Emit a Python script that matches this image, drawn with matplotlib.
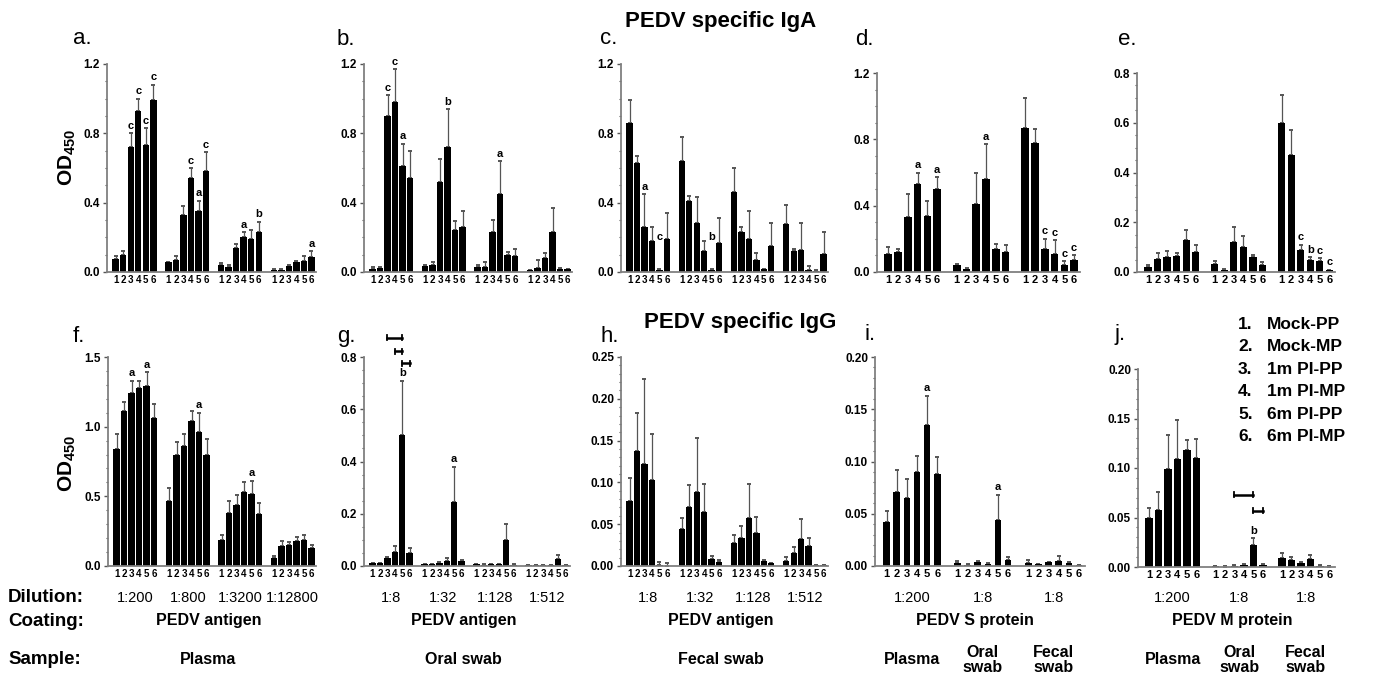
import matplotlib
matplotlib.use('Agg')
import matplotlib.pyplot as plt
from matplotlib.ticker import MultipleLocator, FormatStrFormatter
from matplotlib.transforms import blended_transform_factory

plt.rcParams['font.family'] = ['Liberation Sans', 'DejaVu Sans']
plt.rcParams['mathtext.fontset'] = 'custom'
plt.rcParams['mathtext.rm'] = 'Liberation Sans:bold'
plt.rcParams['mathtext.bf'] = 'Liberation Sans:bold'

## bar means and upper error (SEM), one row per dilution / sample group
a_mean = [[0.075, 0.10, 0.72, 0.93, 0.73, 0.99], [0.055, 0.07, 0.33, 0.54, 0.35, 0.58],
          [0.04, 0.03, 0.14, 0.20, 0.19, 0.23], [0.01, 0.012, 0.035, 0.055, 0.065, 0.085]]
a_sem = [[0.015, 0.02, 0.08, 0.07, 0.10, 0.09], [0.005, 0.02, 0.05, 0.06, 0.06, 0.11],
         [0.01, 0.01, 0.02, 0.03, 0.05, 0.06], [0.005, 0.008, 0.008, 0.01, 0.025, 0.035]]
b_mean = [[0.02, 0.025, 0.90, 0.98, 0.61, 0.54], [0.035, 0.04, 0.52, 0.72, 0.245, 0.26],
          [0.03, 0.03, 0.23, 0.45, 0.10, 0.095], [0.01, 0.025, 0.08, 0.23, 0.02, 0.015]]
b_sem = [[0.008, 0.005, 0.12, 0.19, 0.13, 0.16], [0.008, 0.02, 0.13, 0.22, 0.05, 0.09],
         [0.01, 0.03, 0.07, 0.19, 0.015, 0.035], [0.003, 0.045, 0.03, 0.14, 0.005, 0.005]]
c_mean = [[0.86, 0.63, 0.26, 0.18, 0.01, 0.19], [0.64, 0.41, 0.28, 0.12, 0.01, 0.17],
          [0.46, 0.23, 0.19, 0.07, 0.015, 0.15], [0.275, 0.12, 0.125, 0.01, 0.005, 0.105]]
c_sem = [[0.13, 0.04, 0.19, 0.08, 0.005, 0.15], [0.14, 0.03, 0.15, 0.06, 0.005, 0.14],
         [0.14, 0.03, 0.16, 0.04, 0.005, 0.13], [0.11, 0.01, 0.155, 0.025, 0.005, 0.125]]
d_mean = [[0.11, 0.12, 0.33, 0.53, 0.34, 0.50], [0.04, 0.02, 0.41, 0.56, 0.14, 0.12],
          [0.87, 0.78, 0.14, 0.11, 0.045, 0.07]]
d_sem = [[0.04, 0.02, 0.14, 0.07, 0.09, 0.07], [0.01, 0.003, 0.19, 0.21, 0.03, 0.04],
         [0.18, 0.08, 0.06, 0.08, 0.02, 0.03]]
e_mean = [[0.02, 0.052, 0.06, 0.065, 0.13, 0.08], [0.033, 0.008, 0.12, 0.10, 0.06, 0.028],
          [0.60, 0.47, 0.09, 0.05, 0.045, 0.008]]
e_sem = [[0.01, 0.025, 0.025, 0.01, 0.04, 0.03], [0.01, 0.003, 0.06, 0.045, 0.01, 0.012],
         [0.11, 0.10, 0.02, 0.01, 0.01, 0.002]]
f_mean = [[0.84, 1.11, 1.24, 1.28, 1.29, 1.06], [0.47, 0.80, 0.86, 1.04, 0.96, 0.80],
          [0.19, 0.38, 0.44, 0.53, 0.52, 0.37], [0.06, 0.14, 0.15, 0.18, 0.19, 0.13]]
f_sem = [[0.11, 0.07, 0.09, 0.05, 0.10, 0.10], [0.09, 0.09, 0.09, 0.07, 0.14, 0.11],
         [0.03, 0.09, 0.07, 0.07, 0.09, 0.08], [0.01, 0.04, 0.02, 0.03, 0.03, 0.02]]
g_mean = [[0.01, 0.01, 0.03, 0.055, 0.50, 0.05], [0.008, 0.008, 0.012, 0.02, 0.245, 0.018],
          [0.008, 0.005, 0.008, 0.006, 0.10, 0.005], [0.003, 0.002, 0.002, 0.002, 0.027, 0.002]]
g_sem = [[0.002, 0.002, 0.005, 0.02, 0.21, 0.02], [0.001, 0.001, 0.002, 0.01, 0.135, 0.004],
         [0.001, 0.001, 0.001, 0.001, 0.06, 0.001], [0.001, 0.001, 0.001, 0.001, 0.015, 0.001]]
h_mean = [[0.078, 0.137, 0.122, 0.103, 0.001, 0.0005], [0.044, 0.071, 0.089, 0.064, 0.008, 0.005],
          [0.027, 0.033, 0.057, 0.039, 0.006, 0.003], [0.006, 0.016, 0.032, 0.024, 0.001, 0.001]]
h_sem = [[0.027, 0.046, 0.102, 0.055, 0.004, 0.003], [0.014, 0.026, 0.064, 0.034, 0.004, 0.002],
         [0.01, 0.015, 0.041, 0.02, 0.001, 0.001], [0.005, 0.007, 0.024, 0.01, 0.0005, 0.0005]]
i_mean = [[0.042, 0.071, 0.065, 0.090, 0.135, 0.088], [0.003, 0.001, 0.004, 0.002, 0.044, 0.006],
          [0.003, 0.0015, 0.0035, 0.005, 0.003, 0.0005]]
i_sem = [[0.011, 0.021, 0.018, 0.015, 0.028, 0.016], [0.002, 0.0005, 0.001, 0.001, 0.024, 0.003],
         [0.003, 0.0005, 0.0005, 0.005, 0.001, 0.0003]]
j_mean = [[0.049, 0.058, 0.099, 0.109, 0.118, 0.110], [0.001, 0.0005, 0.0015, 0.002, 0.022, 0.002],
          [0.009, 0.007, 0.004, 0.008, 0.0015, 0.0005]]
j_sem = [[0.011, 0.018, 0.034, 0.039, 0.010, 0.019], [0.0005, 0.0002, 0.0005, 0.001, 0.007, 0.001],
         [0.005, 0.003, 0.001, 0.004, 0.0005, 0.0002]]

## significance letters: (group, bar, letter[, height])
a_sig = [(0, 2, 'c'), (0, 3, 'c'), (0, 4, 'c'), (0, 5, 'c'), (1, 3, 'c'), (1, 4, 'a'), (1, 5, 'c'),
         (2, 3, 'a'), (2, 5, 'b'), (3, 5, 'a')]
b_sig = [(0, 2, 'c'), (0, 3, 'c'), (0, 4, 'a'), (1, 3, 'b'), (2, 3, 'a')]
c_sig = [(0, 2, 'a'), (0, 4, 'c', 0.175), (1, 4, 'b', 0.175)]
d_sig = [(0, 3, 'a'), (0, 5, 'a'), (1, 3, 'a'), (2, 2, 'c'), (2, 3, 'c'), (2, 4, 'c'), (2, 5, 'c')]
e_sig = [(2, 2, 'c'), (2, 3, 'b'), (2, 4, 'c'), (2, 5, 'c')]
f_sig = [(0, 2, 'a'), (0, 4, 'a'), (1, 4, 'a'), (2, 4, 'a')]
g_sig = [(0, 4, 'b'), (1, 4, 'a')]
i_sig = [(0, 4, 'a'), (1, 4, 'a')]
j_sig = [(1, 4, 'b')]
## comparison brackets: (group, from bar, to bar, height)
g_brk = [(0, 2, 4, 0.873), (0, 3, 4, 0.822), (0, 4, 5, 0.777)]
j_brk = [(1, 2, 4, 0.073), (1, 4, 5, 0.057)]

groups = ['1', '2', '3', '4', '5', '6']
legend_names = ['Mock-PP', 'Mock-MP', '1m PI-PP', '1m PI-MP', '6m PI-PP', '6m PI-MP']
dil_fghij = [['1:200', '1:800', '1:3200', '1:12800'], ['1:8', '1:32', '1:128', '1:512'],
             ['1:8', '1:32', '1:128', '1:512'], ['1:200', '1:8', '1:8'], ['1:200', '1:8', '1:8']]
coating = ['PEDV antigen', 'PEDV antigen', 'PEDV antigen', 'PEDV S protein', 'PEDV M protein']
samples = ['Plasma', 'Oral swab', 'Fecal swab']
samples_short = ['Plasma', 'Oral\nswab', 'Fecal\nswab']

W, H = 1380, 688
fig = plt.figure(figsize=(13.8, 6.88), dpi=100)


def box(x0, y0, x1, y1):
    return [x0 / W, 1 - y1 / H, (x1 - x0) / W, (y1 - y0) / H]


def ftext(x, y, s, **kw):
    fig.text(x / W, 1 - y / H, s, **kw)


def panel(rect, means, sems, ymax, step, minor, fmt, width, sig=(), brk=(), xfs=7):
    ax = fig.add_axes(box(*rect))
    xs, ys, es = [], [], []
    for g in range(len(means)):
        for k in range(6):
            xs.append(g * 7 + k)
            ys.append(means[g][k])
            es.append(sems[g][k])
    ax.bar(xs, ys, width=width, color='black', zorder=2)
    ax.errorbar(xs, ys, yerr=[[0] * len(es), es], fmt='none', ecolor='#555555',
                elinewidth=0.9, capsize=1.4, capthick=1.4, zorder=1)
    for s in sig:
        g, k, letter = s[0], s[1], s[2]
        y = s[3] if len(s) > 3 else means[g][k] + sems[g][k] + ymax * 0.012
        ax.text(g * 7 + k, y, letter, ha='center', va='bottom', fontsize=8, fontweight='bold')
    for g, k0, k1, y in brk:
        x0, x1 = g * 7 + k0, g * 7 + k1
        d = ymax * 0.012
        ax.plot([x0, x1], [y, y], color='black', lw=1.8, clip_on=False)
        ax.plot([x0, x0], [y - d, y + d], color='black', lw=1.3, clip_on=False)
        ax.plot([x1, x1], [y - d, y + d], color='black', lw=1.3, clip_on=False)
    ax.set_xlim(-1.15, (len(means) - 1) * 7 + 5.6)
    ax.set_ylim(0, ymax)
    ax.set_xticks(xs)
    ax.set_xticklabels(groups * len(means))
    ax.tick_params(axis='x', length=0, pad=2.5, labelsize=xfs)
    ax.yaxis.set_major_locator(MultipleLocator(step))
    ax.yaxis.set_minor_locator(MultipleLocator(minor))
    ax.yaxis.set_major_formatter(FormatStrFormatter(fmt))
    ax.tick_params(axis='y', which='major', length=3, width=1, color='#555555', labelsize=8.5, pad=2)
    ax.tick_params(axis='y', which='minor', length=1.5, width=0.8, color='#555555')
    for lab in ax.get_xticklabels() + ax.get_yticklabels():
        lab.set_fontweight('bold')
    for side in ['top', 'right']:
        ax.spines[side].set_visible(False)
    for side in ['left', 'bottom']:
        ax.spines[side].set_color('#808080')
        ax.spines[side].set_linewidth(1.3)
    return ax


panel((107, 64, 316, 272), a_mean, a_sem, 1.2, 0.4, 0.1, '%.1f', 0.85, a_sig)
panel((364, 64, 572, 272), b_mean, b_sem, 1.2, 0.4, 0.1, '%.1f', 0.85, b_sig)
panel((621, 64, 828, 272), c_mean, c_sem, 1.2, 0.4, 0.1, '%.1f', 0.85, c_sig)
panel((877, 73, 1080, 272), d_mean, d_sem, 1.2, 0.4, 0.1, '%.1f', 0.78, d_sig, xfs=8)
panel((1137, 73, 1335, 272), e_mean, e_sem, 0.8, 0.2, 0.05, '%.1f', 0.75, e_sig, xfs=8)
bottom = [
    panel((108, 357, 316, 566), f_mean, f_sem, 1.5, 0.5, 0.1, '%.1f', 0.85, f_sig),
    panel((364, 357, 570, 566), g_mean, g_sem, 0.8, 0.2, 0.05, '%.1f', 0.85, g_sig, g_brk),
    panel((621, 357, 828, 566), h_mean, h_sem, 0.25, 0.05, 0.01, '%.2f', 0.85),
    panel((875, 357, 1085, 566), i_mean, i_sem, 0.20, 0.05, 0.01, '%.2f', 0.65, i_sig, xfs=8),
    panel((1138, 369, 1335, 567), j_mean, j_sem, 0.20, 0.05, 0.01, '%.2f', 0.8, j_sig, j_brk, xfs=8),
]

## panel letters and titles
for s, x, y in [('a.', 73, 44), ('b.', 337, 45), ('c.', 600, 44), ('d.', 855, 45), ('e.', 1118, 45),
                ('f.', 73, 342), ('g.', 337, 342), ('h.', 600, 342), ('i.', 865, 340), ('j.', 1115, 340)]:
    ftext(x, y, s, fontsize=16, ha='left', va='baseline')
ftext(721, 27, 'PEDV specific IgA', fontsize=16, fontweight='bold', ha='center', va='baseline')
ftext(740, 328, 'PEDV specific IgG', fontsize=16, fontweight='bold', ha='center', va='baseline')
for yc in [157, 463]:
    ftext(67, yc, 'OD$_{450}$', fontsize=15, fontweight='bold', rotation=90, ha='center', va='center')

## legend of groups
for n, name in enumerate(legend_names):
    ftext(1238, 329 + n * 22.4, f'{n + 1}.', fontsize=12.5, fontweight='bold', va='baseline')
    ftext(1267, 329 + n * 22.4, name, fontsize=12.5, fontweight='bold', va='baseline')

## dilution / coating / sample rows
ftext(8, 598, 'Dilution:', fontsize=13.5, fontweight='bold', va='center')
ftext(8, 621, 'Coating:', fontsize=13.5, fontweight='bold', va='center')
ftext(8, 660, 'Sample:', fontsize=13.5, fontweight='bold', va='center')
for p, ax in enumerate(bottom):
    tr = blended_transform_factory(ax.transData, fig.transFigure)
    for g, lab in enumerate(dil_fghij[p]):
        ax.text(g * 7 + 2.5, 1 - 598 / H, lab, transform=tr, fontsize=10.5,
                ha='center', va='center')
    xc = sum(ax.get_xlim()) / 2 - 0.5
    ax.text(xc, 1 - 621 / H, coating[p], transform=tr, fontsize=11.5,
            fontweight='bold', ha='center', va='center')
    if p < 3:
        ax.text(xc, 1 - 660 / H, samples[p], transform=tr, fontsize=11.5,
                fontweight='bold', ha='center', va='center')
    else:
        for g, lab in enumerate(samples_short):
            ax.text(g * 7 + 2.5, 1 - 660 / H, lab, transform=tr, fontsize=11.5,
                    fontweight='bold', ha='center', va='center', linespacing=1.0)

fig.savefig('out.png', dpi=100)
